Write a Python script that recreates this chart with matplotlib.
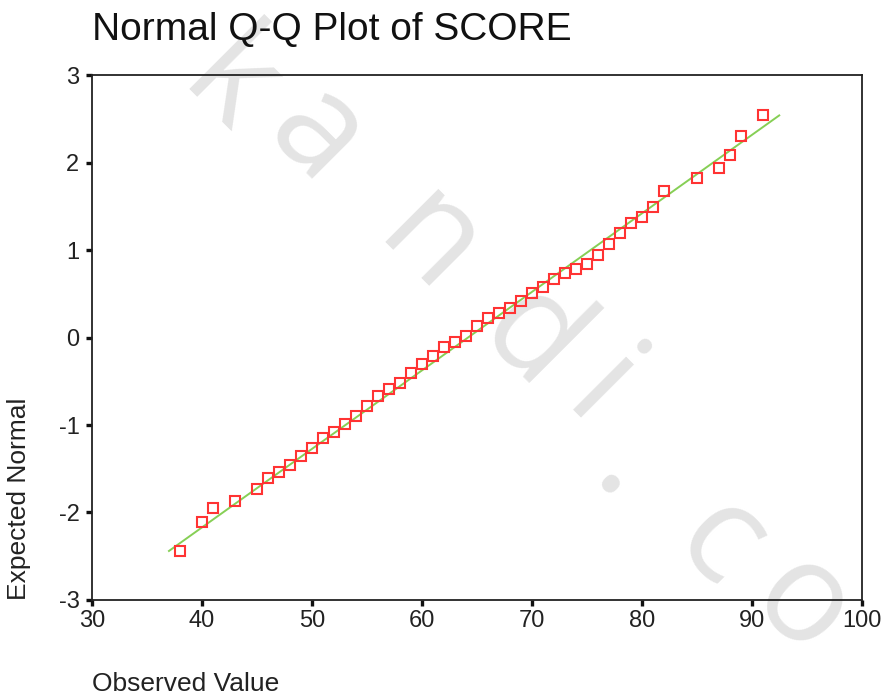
import matplotlib
matplotlib.use('Agg')
import matplotlib.pyplot as plt

plt.rcParams['font.family'] = ['Liberation Sans', 'DejaVu Sans']
plt.rcParams['axes.unicode_minus'] = False

# observed SCORE values and their expected normal quantiles
score = [38, 40, 41, 43, 45, 46, 47, 48, 49, 50, 51, 52, 53, 54, 55, 56, 57, 58, 59, 60,
         61, 62, 63, 64, 65, 66, 67, 68, 69, 70, 71, 72, 73, 74, 75, 76, 77, 78, 79, 80,
         81, 82, 85, 87, 88, 89, 91]
expected = [-2.44, -2.11, -1.95, -1.87, -1.73, -1.60, -1.54, -1.46, -1.35, -1.26,
            -1.15, -1.08, -0.99, -0.90, -0.78, -0.67, -0.59, -0.52, -0.41, -0.30,
            -0.21, -0.11, -0.05, 0.02, 0.13, 0.22, 0.28, 0.34, 0.42, 0.51,
            0.58, 0.67, 0.74, 0.78, 0.84, 0.94, 1.07, 1.19, 1.31, 1.38,
            1.49, 1.67, 1.82, 1.94, 2.09, 2.30, 2.54]

# reference line end points
line_x = [37.0, 92.5]
line_y = [-2.44, 2.54]

xticks = [30, 40, 50, 60, 70, 80, 90, 100]
yticks = [-3, -2, -1, 0, 1, 2, 3]

W, H = 882, 696
fig = plt.figure(figsize=(W / 100, H / 100), dpi=100)
ax = fig.add_axes([0.1043, 0.138, 0.8727, 0.754])
ax.set_facecolor('none')
ax.set_zorder(2)

# faint site watermark, spaced letter by letter down the diagonal
wm_chars = ['k', 'a', 'n', 'd', 'i', '.', 'c', 'o']
wm_pos = [(228, 88), (315, 138), (428, 245), (530, 340), (598, 395),
          (628, 470), (718, 545), (800, 608)]
for ch, (px, py) in zip(wm_chars, wm_pos):
    fig.text(px / W, 1 - py / H, ch, rotation=-45, fontsize=100, color='#e4e4e4',
             family=['Open Sans', 'DejaVu Sans'],
             ha='center', va='center', zorder=0)

ax.plot(line_x, line_y, color='#86cf55', lw=1.4, zorder=2)
ax.plot(score, expected, 's', ms=7, mfc='none', mec='#ff3333', mew=1.5, zorder=3)

ax.set_xlim(30, 100)
ax.set_ylim(-3, 3)
ax.set_xticks(xticks)
ax.set_yticks(yticks)

narrow = ['Liberation Sans Narrow', 'Liberation Sans']
for lab in ax.get_xticklabels() + ax.get_yticklabels():
    lab.set_family(narrow)
    lab.set_fontsize(17)
    lab.set_color('#222222')

ax.tick_params(direction='out', length=4, width=2.4, color='#111111', pad=3)
ax.tick_params(axis='y', pad=5)
for s in ax.spines.values():
    s.set_linewidth(1.3)
    s.set_color('#222222')

fig.text(0.1043, 0.942, 'Normal Q-Q Plot of SCORE', fontsize=28, color='#111111',
         ha='left', va='baseline', zorder=3)
fig.text(0.1043, 0.0, 'Observed Value', fontsize=19, color='#222222',
         ha='left', va='bottom', zorder=3)
fig.text(0.022, 0.138, 'Expected Normal', fontsize=19, color='#222222',
         rotation=90, ha='center', va='bottom', zorder=3)

fig.savefig('out.png', dpi=100)
